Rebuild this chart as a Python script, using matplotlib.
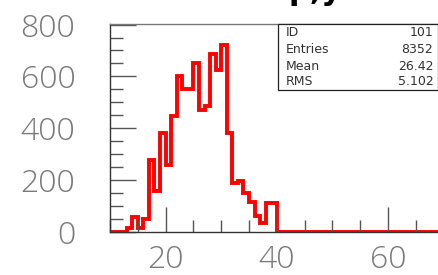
import numpy as np
import matplotlib
matplotlib.use("Agg")
import matplotlib.pyplot as plt
from matplotlib.ticker import MultipleLocator
from matplotlib.patches import Rectangle

# histogram bins of width 1 starting at 10
bin_lo = 10
counts = [0, 0, 0,
          13, 58, 13, 49, 275, 157, 381, 258, 447, 600,
          552, 552, 650, 471, 484, 686, 625, 722, 381, 187,
          196, 150, 114, 62, 33, 110, 110,
          0, 0, 0, 0, 0, 0, 0, 0, 0, 0,
          0, 0, 0, 0, 0, 0, 0, 0, 0, 0,
          0, 0, 0, 0, 0, 0, 0, 0, 0, 0]
edges = np.arange(bin_lo, bin_lo + len(counts) + 1)

stat_names = ["ID", "Entries", "Mean", "RMS"]
stat_values = ["101", "8352", "26.42", "5.102"]

W, H = 439, 275
fig = plt.figure(figsize=(W / 100, H / 100), dpi=100)
plt.rcParams["font.family"] = ["Open Sans", "DejaVu Sans"]

# axes frame in pixels: left 110, top 24.3, bottom 231.7, right off image
ax = fig.add_axes([110 / W, (H - 231.7) / H, (443.7 - 110) / W, (231.7 - 24.3) / H])
ax.stairs(counts, edges, color="#ff0000", linewidth=2.8, baseline=None)

ax.set_xlim(10, 70)
ax.set_ylim(0, 801)

ax.xaxis.set_major_locator(MultipleLocator(20))
ax.xaxis.set_minor_locator(MultipleLocator(5))
ax.yaxis.set_major_locator(MultipleLocator(200))
ax.yaxis.set_minor_locator(MultipleLocator(50))

tcol = "#555555"
ax.tick_params(axis="both", which="both", direction="in", color=tcol, width=1.0,
               labelcolor="#7a7a7a", labelsize=23)
ax.tick_params(axis="y", which="major", length=18.7, pad=25)
ax.tick_params(axis="y", which="minor", length=9.4)
ax.tick_params(axis="x", which="major", length=18, pad=9)
ax.tick_params(axis="x", which="minor", length=8.8)
for lab in ax.get_xticklabels() + ax.get_yticklabels():
    lab.set_fontweight("light")

for side in ["left", "bottom"]:
    ax.spines[side].set_color("#333333")
    ax.spines[side].set_linewidth(1.0)
ax.spines["top"].set_color("#777777")
ax.spines["top"].set_linewidth(1.0)
ax.spines["right"].set_visible(False)

# statistics box
bx0, bx1, by0, by1 = 277.7, 438.3, 24.3, 90.0
box = Rectangle((bx0 / W, 1 - by1 / H), (bx1 - bx0) / W, (by1 - by0) / H,
                transform=fig.transFigure, facecolor="white", edgecolor="#222222",
                linewidth=0.9, zorder=5)
fig.patches.append(box)
row_y = [32.3, 49.3, 66.7, 81.7]
for name, val, ry in zip(stat_names, stat_values, row_y):
    fig.text(285.7 / W, 1 - ry / H, name, fontsize=9, color="#333333",
             family="DejaVu Sans", ha="left", va="center", zorder=6)
    fig.text(433.3 / W, 1 - ry / H, val, fontsize=9, color="#333333",
             family="DejaVu Sans", ha="right", va="center", zorder=6)

# title, mostly cut off at the top of the picture
fig.text(289 / W, 1.0, "p,y", fontsize=22, fontweight="bold", color="black",
         family="DejaVu Sans", ha="left", va="baseline")

fig.savefig("out.png", dpi=100)
